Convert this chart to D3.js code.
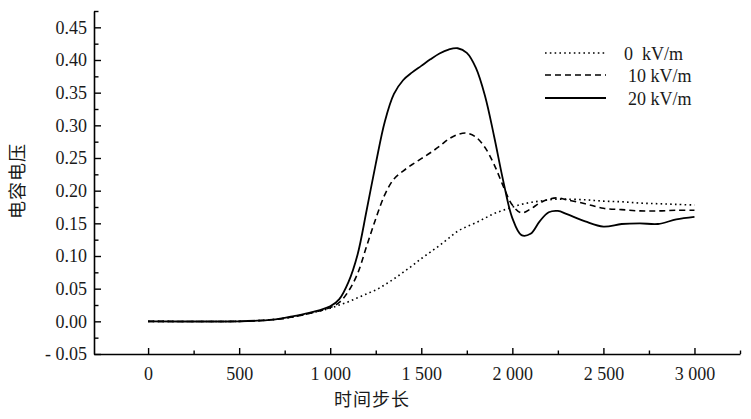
<!DOCTYPE html>
<html>
<head>
<meta charset="utf-8">
<script src="https://cdn.jsdelivr.net/npm/d3@7/dist/d3.min.js"></script>
<style>
  html, body { margin: 0; padding: 0; background: #fff; }
  svg { display: block; }
</style>
</head>
<body>
<svg id="chart" width="751" height="419"></svg>
<script>
// ---- data ----
const timeSteps = [0, 500, 600, 700, 800, 900, 1000, 1050, 1100, 1150, 1200, 1250, 1300, 1350, 1400, 1450, 1500, 1550, 1600, 1650, 1700, 1750, 1800, 1850, 1900, 1950, 2000, 2050, 2100, 2150, 2200, 2250, 2300, 2400, 2500, 2600, 2700, 2800, 2900, 3000];
const v0kV = [0, 0, 0.001, 0.003, 0.007, 0.013, 0.020, 0.025, 0.030, 0.036, 0.042, 0.048, 0.056, 0.065, 0.075, 0.085, 0.096, 0.106, 0.116, 0.127, 0.138, 0.145, 0.151, 0.158, 0.165, 0.170, 0.175, 0.179, 0.182, 0.184, 0.186, 0.187, 0.187, 0.186, 0.184, 0.183, 0.181, 0.180, 0.179, 0.178];
const v10kV = [0, 0, 0.001, 0.003, 0.007, 0.013, 0.021, 0.029, 0.046, 0.073, 0.115, 0.157, 0.194, 0.218, 0.230, 0.240, 0.249, 0.258, 0.268, 0.279, 0.286, 0.288, 0.282, 0.266, 0.240, 0.207, 0.178, 0.166, 0.172, 0.181, 0.187, 0.189, 0.186, 0.180, 0.173, 0.171, 0.169, 0.169, 0.170, 0.170];
const v20kV = [0, 0, 0.001, 0.003, 0.008, 0.014, 0.023, 0.034, 0.060, 0.102, 0.170, 0.241, 0.306, 0.348, 0.369, 0.381, 0.391, 0.401, 0.410, 0.416, 0.418, 0.411, 0.388, 0.345, 0.283, 0.215, 0.158, 0.132, 0.134, 0.153, 0.167, 0.169, 0.164, 0.153, 0.145, 0.149, 0.150, 0.149, 0.156, 0.160];
const seriesNames = ["0  kV/m", "10 kV/m", "20 kV/m"];
const xTickValues = [0, 500, 1000, 1500, 2000, 2500, 3000];
const xTickLabels = ["0", "500", "1 000", "1 500", "2 000", "2 500", "3 000"];
const xMinorTicks = [250, 750, 1250, 1750, 2250, 2750, 3250];
const yTickValues = [-0.05, 0, 0.05, 0.10, 0.15, 0.20, 0.25, 0.30, 0.35, 0.40, 0.45];
const yTickLabels = ["- 0.05", "0.00", "0.05", "0.10", "0.15", "0.20", "0.25", "0.30", "0.35", "0.40", "0.45"];
const yMinorTicks = [-0.025, 0.025, 0.075, 0.125, 0.175, 0.225, 0.275, 0.325, 0.375, 0.425, 0.475];
const xTitle = "时间步长";
const yTitle = "电容电压";

// ---- layout ----
const svg = d3.select("#chart");
const serif = "'Liberation Serif', 'Times New Roman', serif";
const cjk = "'Noto Sans CJK SC', sans-serif";

const x = d3.scaleLinear().domain([-297, 3250]).range([94, 740]);
const y = d3.scaleLinear().domain([-0.05, 0.475]).range([354, 11]);
const x0 = 354, yAxisX = 94;

// minor ticks
svg.append("g").attr("transform", `translate(0,${x0})`)
  .call(d3.axisBottom(x).tickValues(xMinorTicks).tickSizeInner(-3.5).tickSizeOuter(0).tickFormat(""))
  .call(g => g.select(".domain").remove())
  .call(g => g.selectAll("line").attr("stroke", "#000").attr("stroke-width", 1.4));
svg.append("g").attr("transform", `translate(${yAxisX},0)`)
  .call(d3.axisLeft(y).tickValues(yMinorTicks).tickSizeInner(-4.5).tickSizeOuter(0).tickFormat(""))
  .call(g => g.select(".domain").remove())
  .call(g => g.selectAll("line").attr("stroke", "#000").attr("stroke-width", 1.4));

// major axes
const gx = svg.append("g").attr("transform", `translate(0,${x0})`)
  .call(d3.axisBottom(x).tickValues(xTickValues).tickSizeInner(-6).tickSizeOuter(0)
        .tickFormat((d, i) => xTickLabels[i]));
gx.select(".domain").attr("stroke", "#000").attr("stroke-width", 1.6);
gx.selectAll("line").attr("stroke", "#000").attr("stroke-width", 1.4);
gx.selectAll("text").attr("y", 25.5).attr("dy", 0)
  .attr("font-family", serif).attr("font-size", 18).attr("fill", "#1a1a1a");

const gy = svg.append("g").attr("transform", `translate(${yAxisX},0)`)
  .call(d3.axisLeft(y).tickValues(yTickValues).tickSizeInner(-7).tickSizeOuter(0).tickPadding(7)
        .tickFormat((d, i) => yTickLabels[i]));
gy.select(".domain").attr("stroke", "#000").attr("stroke-width", 1.6);
gy.selectAll("line").attr("stroke", "#000").attr("stroke-width", 1.4);
gy.selectAll("text").attr("font-family", serif).attr("font-size", 18).attr("fill", "#1a1a1a")
  .attr("xml:space", "preserve").style("white-space", "pre");

// titles
svg.append("text").attr("x", 372).attr("y", 406).attr("text-anchor", "middle")
  .attr("font-family", cjk).attr("font-size", 18).attr("fill", "#1a1a1a")
  .attr("letter-spacing", 1).text(xTitle);
svg.append("text").attr("transform", "translate(24,181) rotate(-90)").attr("text-anchor", "middle")
  .attr("font-family", cjk).attr("font-size", 18).attr("fill", "#1a1a1a")
  .attr("letter-spacing", 1).text(yTitle);

// lines
const styles = [
  { dash: "1.6,3.2", width: 1.6 },
  { dash: "6,4", width: 1.6 },
  { dash: null, width: 1.8 }
];
const allSeries = [v0kV, v10kV, v20kV];
const line = d3.line().x(d => x(d[0])).y(d => y(d[1])).curve(d3.curveCatmullRom.alpha(0.5));
allSeries.forEach((vals, i) => {
  const pts = timeSteps.map((t, j) => [t, vals[j]]);
  svg.append("path").datum(pts)
    .attr("fill", "none").attr("stroke", "#000")
    .attr("stroke-width", styles[i].width)
    .attr("stroke-dasharray", styles[i].dash)
    .attr("stroke-linejoin", "round")
    .attr("d", line);
});

// legend
const legendY = [53, 75, 98];
const legendTextX = [624, 628, 628];
seriesNames.forEach((name, i) => {
  svg.append("line").attr("x1", 545).attr("x2", 606).attr("y1", legendY[i]).attr("y2", legendY[i])
    .attr("stroke", "#000").attr("stroke-width", styles[i].width)
    .attr("stroke-dasharray", styles[i].dash);
  svg.append("text").attr("x", legendTextX[i]).attr("y", legendY[i] + 7)
    .attr("font-family", serif).attr("font-size", 18).attr("fill", "#1a1a1a")
    .attr("xml:space", "preserve").style("white-space", "pre").text(name);
});
</script>
</body>
</html>
